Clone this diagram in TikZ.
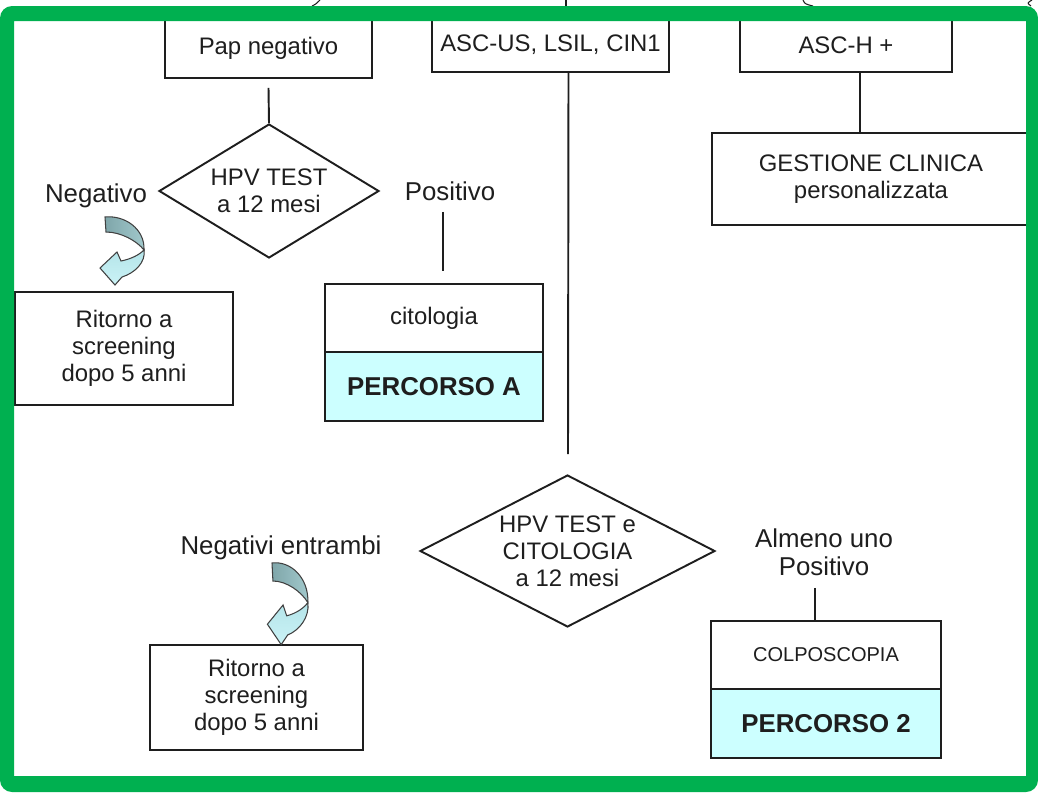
\documentclass[tikz,border=0pt]{standalone}
\usepackage{fontspec}
\setmainfont{Liberation Sans}
\usetikzlibrary{shapes.geometric,calc}
\definecolor{framegreen}{HTML}{00B050}
\definecolor{pathcyan}{HTML}{CCFFFF}
\definecolor{ribbondark}{HTML}{7FA6AA}
\definecolor{ribbonmid}{HTML}{A2C9CC}
\definecolor{ribbonlight}{HTML}{B4E4E9}
\definecolor{ribbonpale}{HTML}{CBF3F6}
\definecolor{ink}{HTML}{1E1E1E}
\newcommand\mainsz{\fontsize{13.6pt}{15.3pt}\selectfont}
\newcommand\labelsz{\fontsize{14.7pt}{16pt}\selectfont}
\newcommand\smallsz{\fontsize{11.4pt}{13pt}\selectfont}

\begin{document}
\begin{tikzpicture}[x=0.02cm,y=-0.02cm,
  box/.style={draw=ink, line width=1.1pt, fill=white, inner sep=0pt, align=center, font=\mainsz, text=ink},
  pathbox/.style={box, fill=pathcyan, font=\labelsz\bfseries},
  decision/.style={diamond, draw=ink, line width=1.1pt, inner sep=0pt},
  dtext/.style={font=\mainsz, text=ink, align=center, inner sep=0pt},
  outlabel/.style={font=\labelsz, text=ink, align=center, inner sep=0pt},
  link/.style={draw=ink, line width=1.1pt},
  % twisted ribbon arrow: dark back face, then light front face with the head
  turnarrow/.pic={
    \shade[left color=ribbondark, right color=ribbonmid, draw=ink!85, line width=0.6pt]
      (0,0) .. controls (20,-2) and (40,12) .. (39,33)
            .. controls (32,24) and (16,15) .. (1,15) -- cycle;
    \shade[top color=ribbonlight, bottom color=ribbonpale, draw=ink!85, line width=0.6pt]
      (39,33) .. controls (41,45) and (30,56) .. (17,60)
            -- (10,68) -- (-5,51) -- (12,35) -- (16,44)
            .. controls (26,42) and (34,38) .. (39,33) -- cycle;
  }
]
\useasboundingbox (0,0) rectangle (1038,792);

% top row
\node[box, minimum width=4.14cm, minimum height=1.2cm] (pap) at (268.5,48) {Pap negativo};
\node[box, minimum width=4.74cm, minimum height=1.08cm] (asc) at (550.5,45) {ASC-US, LSIL, CIN1};
\node[box, minimum width=4.24cm, minimum height=1.08cm] (asch) at (846,45) {ASC-H +};

% ASC-H+ branch
\node[box, minimum width=6.36cm, minimum height=1.84cm] (gest) at (871,179) {GESTIONE CLINICA\\personalizzata};

% first decision
\node[decision, minimum width=4.4cm, minimum height=2.68cm] (d1) at (269,191) {};
\node[dtext] (d1t) at (d1) {HPV TEST\\a 12 mesi};
\node[outlabel] (neg1) at (96,196) {Negativo};
\node[outlabel] (pos1) at (450,191) {Positivo};
\node[box, minimum width=4.36cm, minimum height=2.26cm] (rit1) at (124,348.5) {Ritorno a\\screening\\dopo 5 anni};
\node[box, minimum width=4.36cm, minimum height=1.36cm] (cit) at (434,318) {citologia};
\node[pathbox, minimum width=4.36cm, minimum height=1.38cm] (perA) at (434,386.5) {PERCORSO A};

% second decision
\node[decision, minimum width=5.9cm, minimum height=3.04cm] (d2) at (567.5,551) {};
\node[dtext] (d2t) at (d2) {HPV TEST e\\CITOLOGIA\\a 12 mesi};
\node[outlabel] (neg2) at (281,548) {Negativi entrambi};
\node[outlabel, font=\fontsize{14.7pt}{15.9pt}\selectfont] (alm) at (824,552) {Almeno uno\\Positivo};
\node[box, minimum width=4.26cm, minimum height=2.1cm] (rit2) at (256.5,697.5) {Ritorno a\\screening\\dopo 5 anni};
\node[box, minimum width=4.6cm, minimum height=1.36cm, font=\smallsz] (colp) at (826,655) {COLPOSCOPIA};
\node[pathbox, minimum width=4.6cm, minimum height=1.38cm] (per2) at (826,723.5) {PERCORSO 2};

% connectors
\draw[link] ($(pap.south)+(0,9)$) -- (d1.north);
\draw[link] ($(asc.south)+(18,0)$) -- ($(d2.north)+(0.5,-20)$);
\draw[link] ($(asch.south)+(14,0)$) -- ($(gest.north)+(-11,0)$);
\draw[link] ($(pos1.south)+(-7,11)$) -- ($(cit.north)+(9,-12)$);
\draw[link] ($(alm.south)+(-9,12)$) -- ($(colp.north)+(-11,0)$);

% turning arrows
\pic at (105,217) {turnarrow};
\pic[xscale=0.92, yscale=1.2] at (272,563) {turnarrow};

% pieces of the outer drawing above the frame
\draw[ink, line width=0.6pt] (312,6) .. controls (316,4) .. (320,0);
\draw[ink, line width=0.8pt] (566,0) -- (566,7);
\draw[ink, line width=0.6pt] (803,0) .. controls (805,4) .. (813,6);
\draw[ink, line width=0.6pt] (1032,0) .. controls (1027,3) .. (1031,6);

% green frame
\fill[framegreen, even odd rule] [rounded corners=0.24cm] (0,6) rectangle (1038,792)
  [sharp corners] (14,21) rectangle (1026,776);
\end{tikzpicture}
\end{document}
